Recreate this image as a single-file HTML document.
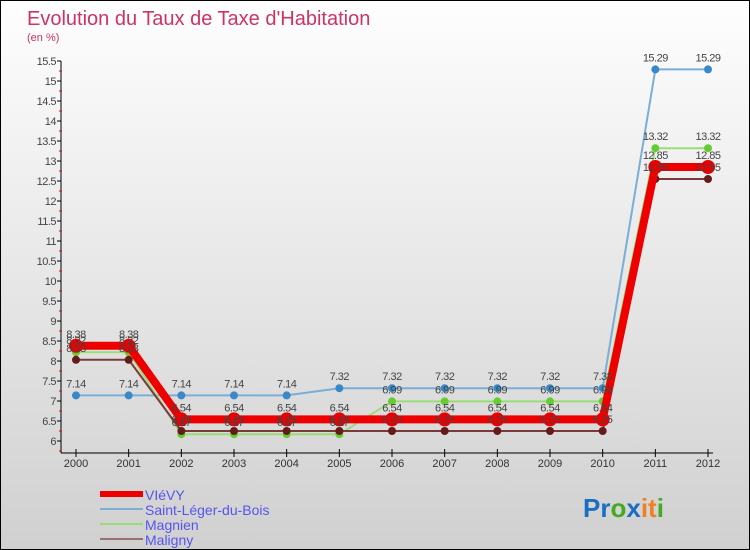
<!DOCTYPE html>
<html><head><meta charset="utf-8"><style>
body{margin:0;}
#wrap{position:relative;width:748px;height:548px;border:1px solid #000;background:linear-gradient(#fefefe,#d0d0d0);overflow:hidden;font-family:"Liberation Sans",sans-serif;}
svg{position:absolute;left:0;top:0;}
</style></head><body>
<div id="wrap">
<svg id="chart" width="748" height="548">
<text x="26" y="24" font-size="20" fill="#cc3366">Evolution du Taux de Taxe d'Habitation</text>
<text x="26" y="40" font-size="11" fill="#cc3366">(en %)</text>
<g id="axes"></g><g id="series"></g><g id="legend"></g>
<text x="582" y="516" font-size="26" font-weight="bold"><tspan fill="#1a6fc4">Pr</tspan><tspan fill="#44aa22">o</tspan><tspan fill="#1a6fc4">x</tspan><tspan fill="#f08020">it</tspan><tspan fill="#44aa22">i</tspan></text>
</svg></div>
<script>
const years=[2000,2001,2002,2003,2004,2005,2006,2007,2008,2009,2010,2011,2012];
const yTicks=[6,6.5,7,7.5,8,8.5,9,9.5,10,10.5,11,11.5,12,12.5,13,13.5,14,14.5,15,15.5];
const vievy=[8.38,8.38,6.54,6.54,6.54,6.54,6.54,6.54,6.54,6.54,6.54,12.85,12.85];
const saintLeger=[7.14,7.14,7.14,7.14,7.14,7.32,7.32,7.32,7.32,7.32,7.32,15.29,15.29];
const magnien=[8.22,8.22,6.17,6.17,6.17,6.17,6.99,6.99,6.99,6.99,6.99,13.32,13.32];
const maligny=[8.03,8.03,6.25,6.25,6.25,6.25,6.25,6.25,6.25,6.25,6.25,12.55,12.55];
const NS="http://www.w3.org/2000/svg";
const X=i=>75+i*(707-75)/(years.length-1);
const Y=v=>440-(v-6)*40;
function mk(t,a,p){const e=document.createElementNS(NS,t);for(const k in a)e.setAttribute(k,a[k]);p.appendChild(e);return e;}
const ax=document.getElementById('axes');
let l=mk('line',{x1:60,y1:Y(15.5),x2:60,y2:452,stroke:'#000'},ax);


l=mk('line',{x1:60,y1:452,x2:712,y2:452,stroke:'#000'},ax);


yTicks.forEach(v=>{
 mk('line',{x1:56,y1:Y(v),x2:60,y2:Y(v),stroke:'#000'},ax);
 mk('line',{x1:58,y1:Y(v)+10,x2:61,y2:Y(v)+10,stroke:'#e00'},ax);
 const t=mk('text',{x:55,y:Y(v)+4,'font-size':11,fill:'#444','text-anchor':'end','letter-spacing':'-0.5'},ax);
 t.textContent=v;
 
 
});
years.forEach((yr,i)=>{
 mk('line',{x1:X(i),y1:448,x2:X(i),y2:456,stroke:'#000'},ax);
 const t=mk('text',{x:X(i),y:466,'font-size':11,fill:'#333','text-anchor':'middle'},ax);
 t.textContent=yr;
 
 
});
const sg=document.getElementById('series');
const series=[
 {d:saintLeger,c:'#7aaed6',m:'#3a88c8',w:2,r:4,n:'saint-leger'},
 {d:magnien,c:'#99dd77',m:'#66cc33',w:2,r:4,n:'magnien'},
 {d:maligny,c:'#7a3a3a',m:'#661a1a',w:2,r:4,n:'maligny'},
 {d:vievy,c:'#ee0000',m:'#ee0000',w:8,r:7,n:'vievy'}];
series.forEach(s=>{
 const p=mk('polyline',{points:s.d.map((v,i)=>X(i)+','+Y(v)).join(' '),fill:'none',stroke:s.c,'stroke-width':s.w},sg);
 
 
 s.d.forEach((v,i)=>{
  const c=mk('circle',{cx:X(i),cy:Y(v),r:s.r,fill:s.m},sg);
  
  
 });
});
series.forEach(s=>{s.d.forEach((v,i)=>{
 const t=mk('text',{x:X(i),y:Y(v)-8,'font-size':11,fill:'#444','text-anchor':'middle','letter-spacing':'-0.5'},sg);
 t.textContent=v.toFixed(2);
 
 
});});
const lg=document.getElementById('legend');
const leg=[['VIéVY','#ee0000',6],['Saint-Léger-du-Bois','#7aaed6',2],['Magnien','#99dd77',2],['Maligny','#997070',2]];
leg.forEach((e,i)=>{
 const y=493+i*15;
 const ln=mk('line',{x1:99,y1:y,x2:142,y2:y,stroke:e[1],'stroke-width':e[2]},lg);
 
 
 const t=mk('text',{x:144,y:y+6,'font-size':14,fill:'#5555ee'},lg);
 t.textContent=e[0];
 
 
});
</script>
</body></html>
